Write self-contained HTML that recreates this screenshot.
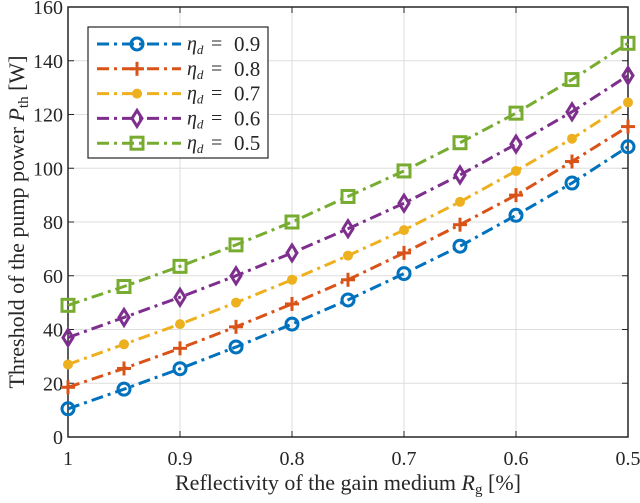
<!DOCTYPE html>
<html><head><meta charset="utf-8"><style>
body{margin:0;background:#fff}
svg, svg text, svg tspan{font-family:"Liberation Serif","DejaVu Serif",serif !important}
svg text{fill:#262626}
</style></head><body>
<svg id="c" width="640" height="498" xmlns="http://www.w3.org/2000/svg" font-family="Liberation Serif, serif"></svg>
<script>
const xValues=[1,0.95,0.9,0.85,0.8,0.75,0.7,0.65,0.6,0.55,0.5];
const xTicks=[1,0.9,0.8,0.7,0.6,0.5];
const yTicks=[0,20,40,60,80,100,120,140,160];
const seriesLabels=["0.9","0.8","0.7","0.6","0.5"];
const s09=[10.5,17.8,25.4,33.5,42,51,60.8,71,82.5,94.5,108];
const s08=[18.5,25.5,33,41,49.5,58.5,68.5,79,90,102.5,115.5];
const s07=[27,34.5,42,50,58.5,67.5,77,87.5,99,111,124.5];
const s06=[37,44.5,52,60,68.5,77.5,87,97.5,109,121,134.5];
const s05=[49,56,63.5,71.5,80,89.5,99,109.5,120.5,133,146.5];
const series=[s09,s08,s07,s06,s05];
const colors=["#0072BD","#D95319","#EDB120","#7E2F8E","#77AC30"];
const markers=["circle","plus","dot","diamond","square"];
const L=68,R=628,T=7,B=437;
const xs=v=>L+(1-v)/0.5*(R-L);
const ys=v=>B-v/160*(B-T);
const svg=document.getElementById('c');
const NS='http://www.w3.org/2000/svg';
function el(t,a,p){const e=document.createElementNS(NS,t);for(const k in a)e.setAttribute(k,a[k]);(p||svg).appendChild(e);return e;}
const grid=el('g',{});


xTicks.forEach(v=>{el('line',{x1:xs(v),x2:xs(v),y1:T,y2:B,stroke:'#dedede','stroke-width':1},grid);});
yTicks.forEach(v=>{el('line',{x1:L,x2:R,y1:ys(v),y2:ys(v),stroke:'#dedede','stroke-width':1},grid);});
const ax=el('g',{});


el('rect',{x:L,y:T,width:R-L,height:B-T,fill:'none',stroke:'#262626','stroke-width':1.5},ax);
xTicks.forEach(v=>{
 el('line',{x1:xs(v),x2:xs(v),y1:B,y2:B-6,stroke:'#262626'},ax);
 el('line',{x1:xs(v),x2:xs(v),y1:T,y2:T+6,stroke:'#262626'},ax);
 const t=el('text',{x:xs(v),y:B+28,'text-anchor':'middle','font-size':20},ax);t.textContent=String(v);
 
 
});
yTicks.forEach(v=>{
 el('line',{x1:L,x2:L+6,y1:ys(v),y2:ys(v),stroke:'#262626'},ax);
 el('line',{x1:R,x2:R-6,y1:ys(v),y2:ys(v),stroke:'#262626'},ax);
 const t=el('text',{x:L-5,y:ys(v)+7,'text-anchor':'end','font-size':20},ax);t.textContent=String(v);
 
 
});
const xt=el('text',{x:348,y:490,'text-anchor':'middle','font-size':22});


xt.innerHTML='Reflectivity of the gain medium <tspan font-style="italic">R</tspan><tspan font-size="15" dy="4">g</tspan><tspan dy="-4">&#160;[%]</tspan>';
const yt=el('text',{x:0,y:0,'text-anchor':'middle','font-size':22,transform:'translate(24,222) rotate(-90)'});


yt.innerHTML='Threshold of the pump power <tspan font-style="italic">P</tspan><tspan font-size="15" dy="4">th</tspan><tspan dy="-4">&#160;[W]</tspan>';
function marker(type,x,y,c,p){
 const sw=3;
 if(type==='circle')el('circle',{cx:x,cy:y,r:6,fill:'none',stroke:c,'stroke-width':sw},p);
 else if(type==='plus'){el('line',{x1:x-7,x2:x+7,y1:y,y2:y,stroke:c,'stroke-width':sw},p);el('line',{x1:x,x2:x,y1:y-7,y2:y+7,stroke:c,'stroke-width':sw},p);}
 else if(type==='dot')el('circle',{cx:x,cy:y,r:5,fill:c},p);
 else if(type==='diamond')el('polygon',{points:`${x},${y-8} ${x+5},${y} ${x},${y+8} ${x-5},${y}`,fill:'none',stroke:c,'stroke-width':sw},p);
 else el('rect',{x:x-6,y:y-6,width:12,height:12,fill:'none',stroke:c,'stroke-width':sw},p);
}
series.forEach((s,i)=>{
 const g=el('g',{});
 
 
 el('polyline',{points:s.map((v,j)=>xs(xValues[j])+','+ys(v)).join(' '),fill:'none',stroke:colors[i],'stroke-width':3,'stroke-dasharray':'12,5,3,5'},g);
 s.forEach((v,j)=>marker(markers[i],xs(xValues[j]),ys(v),colors[i],g));
});
const lg=el('g',{});


el('rect',{x:88,y:27,width:180,height:131,fill:'#fff',stroke:'#262626','stroke-width':1.2},lg);
seriesLabels.forEach((l,i)=>{
 const y=44+i*24.8;
 const e=el('g',{},lg);
 
 
 el('line',{x1:97,x2:181,y1:y,y2:y,stroke:colors[i],'stroke-width':3,'stroke-dasharray':'12,5,3,5'},e);
 marker(markers[i],137,y,colors[i],e);
 const t=el('text',{x:187,y:y+6,'font-size':20},e);
 t.innerHTML='<tspan font-style="italic">η</tspan><tspan font-style="italic" font-size="13" dy="4">d</tspan>';
 const eq=el('text',{x:211,y:y+6,'font-size':20},e);eq.textContent='=';
 const vt=el('text',{x:234,y:y+7,'font-size':21},e);vt.textContent=l;
});
</script>
</body></html>
